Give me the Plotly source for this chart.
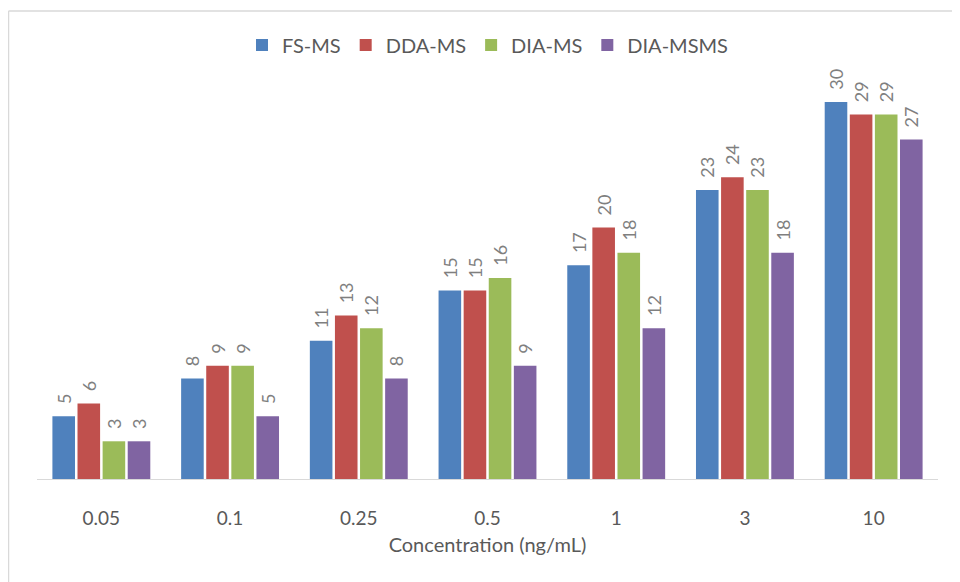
import plotly.graph_objects as go

categories = ["0.05", "0.1", "0.25", "0.5", "1", "3", "10"]
series_names = ["FS-MS", "DDA-MS", "DIA-MS", "DIA-MSMS"]
fs_ms = [5, 8, 11, 15, 17, 23, 30]
dda_ms = [6, 9, 13, 15, 20, 24, 29]
dia_ms = [3, 9, 12, 16, 18, 23, 29]
dia_msms = [3, 5, 8, 9, 12, 18, 27]
colors = ["#4F81BD", "#C0504D", "#9BBB59", "#8064A2"]
x_title = "Concentration (ng/mL)"

FONT = "Lato, Open Sans, sans-serif"
PAD = "\u00a0\u00a0"  # gap between bar top and rotated label
fig = go.Figure()
for name, vals, col in zip(series_names, [fs_ms, dda_ms, dia_ms, dia_msms], colors):
    fig.add_trace(go.Bar(
        name=name, x=categories, y=vals, marker=dict(color=col, line=dict(width=0)),
        text=[PAD + str(v) for v in vals], textposition="outside", textangle=-90,
        constraintext="none",
        textfont=dict(family=FONT, size=18, color="#7f7f7f"), cliponaxis=False,
    ))

# page body has an 8px margin, so figure coords = screen coords - 8
W, H = 952, 574
L, R, T, B = 29, 22, 52, 103
pw, ph = W - L - R, H - T - B
bx = (0.5 - L) / pw
ty = 1 + (T - 3) / ph
by = -(B) / ph - 0.05

fig.update_layout(
    width=W, height=H, margin=dict(l=L, r=R, t=T, b=B, autoexpand=False),
    paper_bgcolor="white", plot_bgcolor="white",
    barmode="group", bargap=0.22, bargroupgap=0.1,
    font=dict(family=FONT, color="#595959"),
    legend=dict(orientation="h", x=0.5, xanchor="center", y=1 + (T - 37) / ph, yanchor="middle",
                font=dict(family=FONT, size=20, color="#595959"), itemwidth=30, traceorder="normal"),
    xaxis=dict(type="category", showline=True, linecolor="#d9d9d9", linewidth=1, ticks="",
               tickfont=dict(family=FONT, size=19, color="#595959"), ticklabelstandoff=22,
               title=dict(text=x_title, font=dict(family=FONT, size=20, color="#595959"), standoff=10),
               showgrid=False, automargin=False),
    yaxis=dict(range=[0, ph / 12.57], visible=False, showgrid=False),
    shapes=[
        dict(type="line", xref="paper", yref="paper", x0=bx, x1=bx, y0=by, y1=ty,
             line=dict(color="#d9d9d9", width=1.5)),
        dict(type="line", xref="paper", yref="paper", x0=bx, x1=1.1, y0=ty, y1=ty,
             line=dict(color="#d9d9d9", width=1.5)),
    ],
)
fig.write_html("out.html")
